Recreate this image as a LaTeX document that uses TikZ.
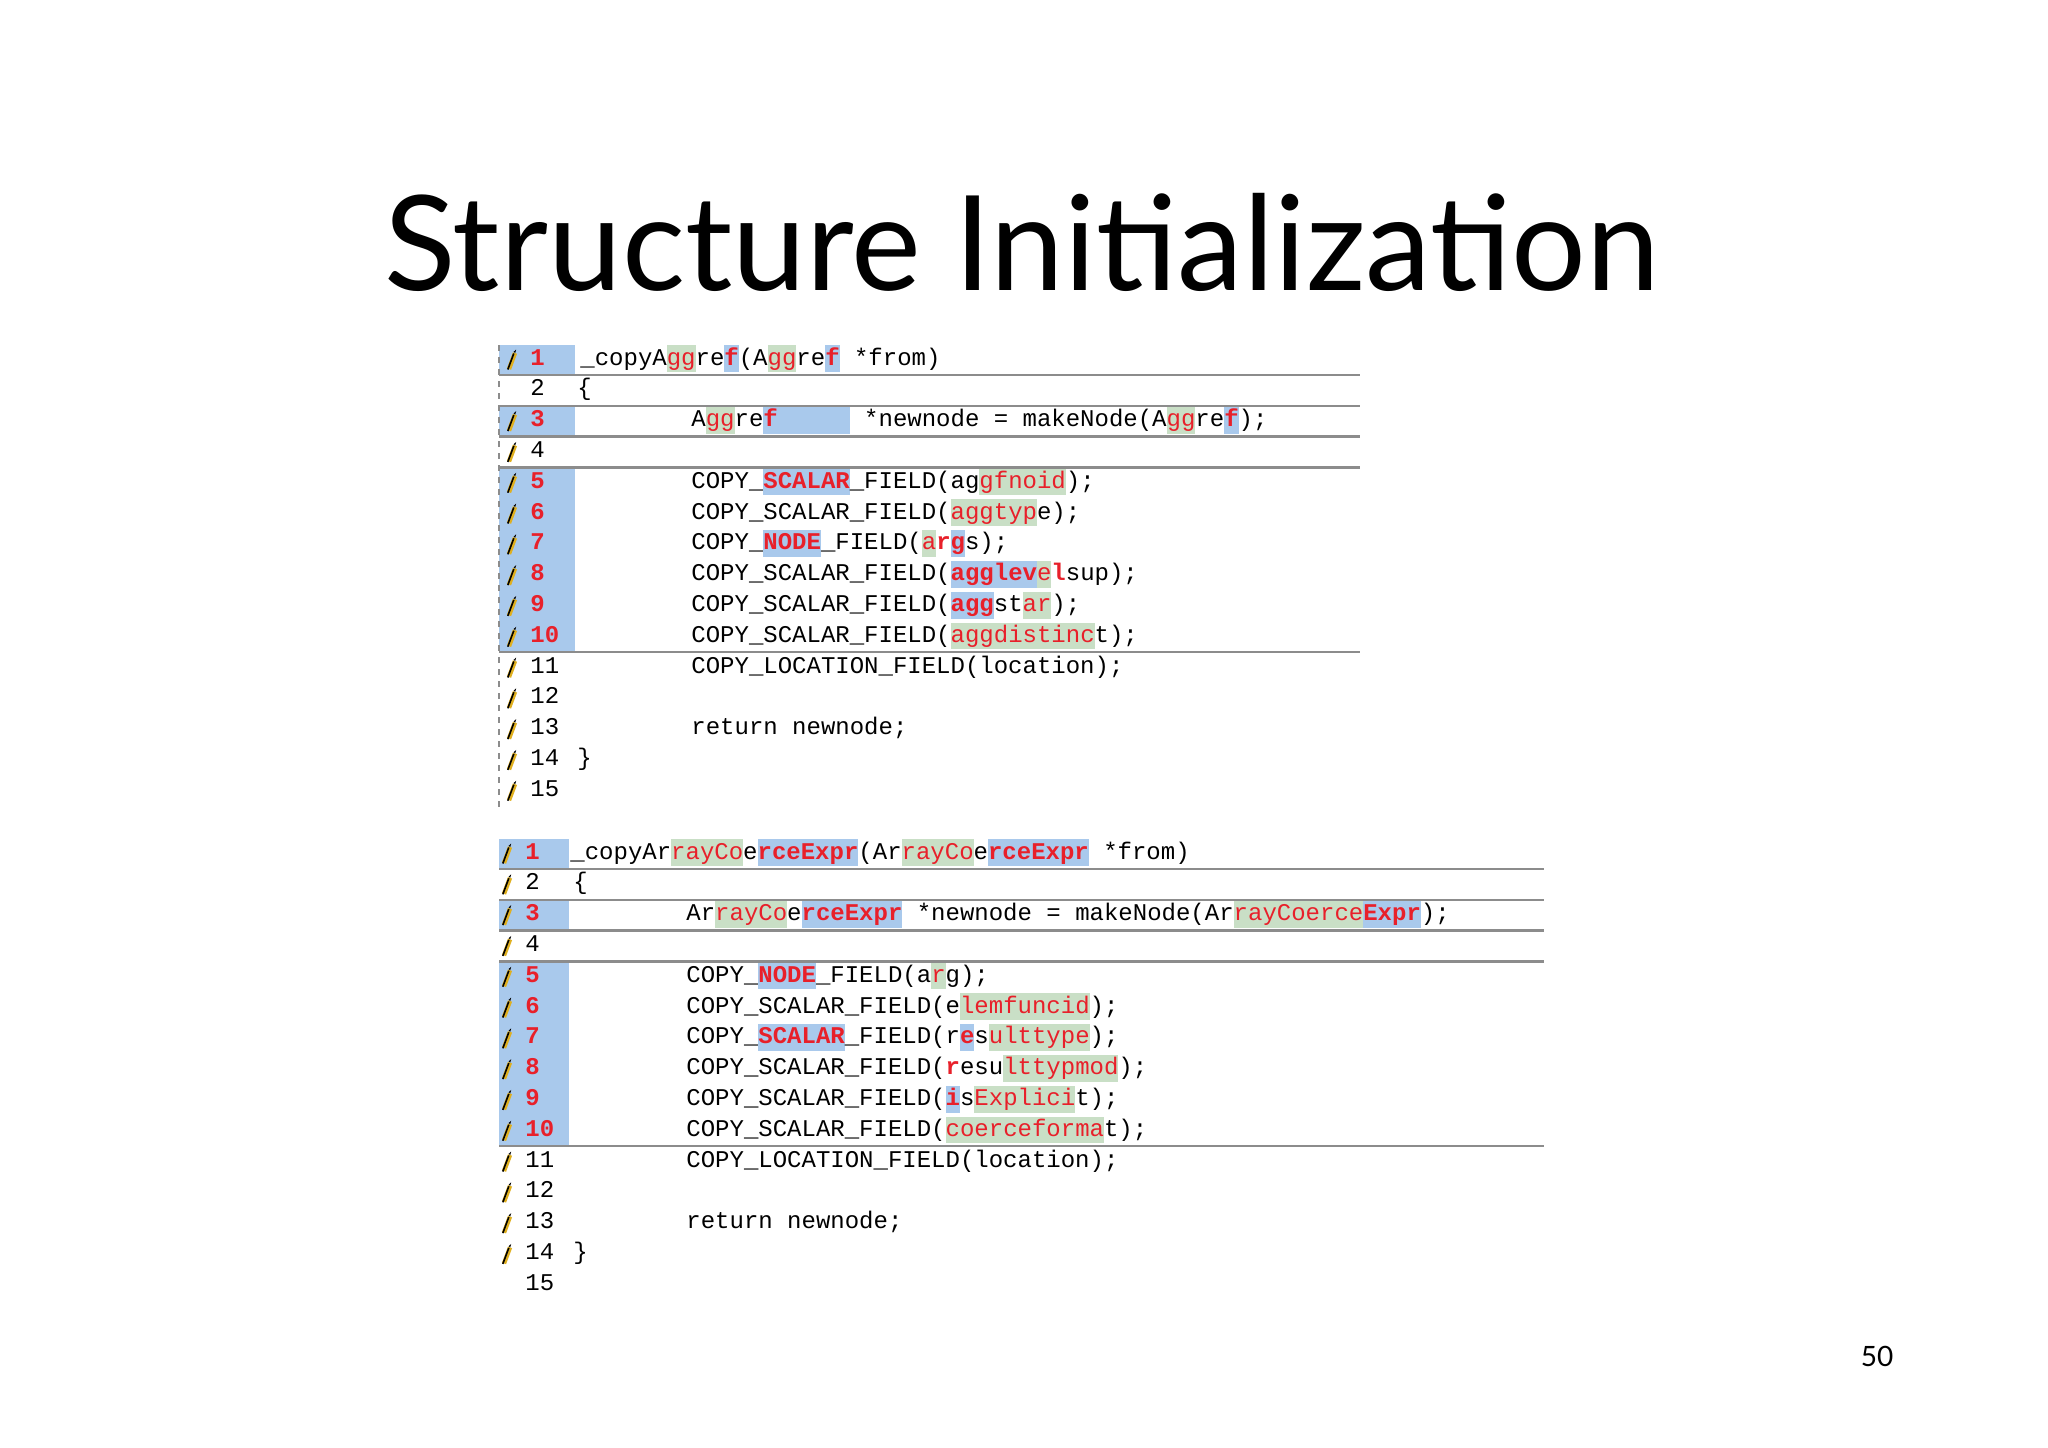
\documentclass[tikz,border=0pt]{standalone}
\usepackage{fontspec}
\setmainfont{Lato}
\setmonofont{Liberation Mono}
\definecolor{hgreen}{HTML}{C9DFC6}
\definecolor{hblue}{HTML}{A9C9EC}
\definecolor{hred}{HTML}{E8202A}
\definecolor{rulegray}{HTML}{8C8C8C}
\definecolor{pencil}{HTML}{E0B020}
\newcommand\hstrut{\rule[-3.6pt]{0pt}{13.4pt}}
\newcommand\hg[1]{{\setlength\fboxsep{0pt}\colorbox{hgreen}{\hstrut\textcolor{hred}{#1}}}}
\newcommand\hb[1]{{\setlength\fboxsep{0pt}\colorbox{hblue}{\hstrut\textcolor{hred}{\bfseries #1}}}}
\newcommand\hr[1]{\textcolor{hred}{\bfseries #1}}
\tikzset{
  code/.style={inner sep=0pt, font=\ttfamily\fontsize{12}{12}\selectfont, anchor=base west},
  lnum/.style={inner sep=0pt, font=\ttfamily\fontsize{12}{12}\selectfont, anchor=base west},
  lnumhi/.style={lnum, text=hred, font=\ttfamily\bfseries\fontsize{12}{12}\selectfont},
  gut/.style={fill=hblue, draw=none},
  sep/.style={draw=rulegray, line width=1.2pt},
  pencilpic/.pic={
    \draw[line width=2.2pt, pencil] (-3,9) -- (3,-7);
    \draw[line width=0.8pt, black] (-4.2,9.5) -- (1.8,-6.5);
    \fill[black] (3.2,-7) -- (4.2,-10.5) -- (1.6,-8.2) -- cycle;
  }
}
\begin{document}
\begin{tikzpicture}[x=0.5pt,y=-0.5pt]
\useasboundingbox[fill=white] (0,0) rectangle (2048,1447);
\node[font=\fontsize{66}{66}\selectfont, anchor=base] (title) at (1022,290) {Structure Initialization};
\node[font=\fontsize{14}{14}\selectfont] (pg) at (1877,1356) {50};

% ---------- top block ----------
\def\rt{30.8}
% gutter
\foreach \i in {1,3} {\fill[gut] (499,{360+(\i-1)*\rt-15}) rectangle (575,{360+(\i-1)*\rt+15});}
\fill[gut] (499,{360+4*\rt-15}) rectangle (575,{360+9*\rt+15});
\draw[rulegray, dashed, line width=0.8pt] (499,345) -- (499,812);
\foreach \i in {1,2,3,4,10} {\draw[sep] (499,{360+(\i-1)*\rt+15}) -- (1360,{360+(\i-1)*\rt+15});}
\foreach \i in {1,3,4,5,6,7,8,9,10,11,12,13,14,15} {\pic at (512,{360+(\i-1)*\rt}) {pencilpic};}
\foreach \i in {1,3,5,6,7,8,9,10} {\node[lnumhi] (ta\i) at (530,{360+(\i-1)*\rt+5}) {\i};}
\foreach \i in {2,4,11,12,13,14,15} {\node[lnum] (ta\i) at (530,{360+(\i-1)*\rt+5}) {\i};}
\node[code] (t1) at (580,365) {\_copyA\hg{gg}re\hb{f}(A\hg{gg}re\hb{f} *from)};
\node[code] (t2) at (577,395.8) {\{};
\node[code] (t3) at (691,426.6) {A\hg{gg}re\hb{f~~~~~}~*newnode = makeNode(A\hg{gg}re\hb{f});};
\node[code] (t5) at (691,488.2) {COPY\_\hb{SCALAR}\_FIELD(ag\hg{gfnoid});};
\node[code] (t6) at (691,519) {COPY\_SCALAR\_FIELD(\hg{aggtyp}e);};
\node[code] (t7) at (691,549.8) {COPY\_\hb{NODE}\_FIELD(\hg{a}\hr{r}\hb{g}s);};
\node[code] (t8) at (691,580.6) {COPY\_SCALAR\_FIELD(\hb{agglev}\hg{e}\hr{l}sup);};
\node[code] (t9) at (691,611.4) {COPY\_SCALAR\_FIELD(\hb{agg}st\hg{ar});};
\node[code] (t10) at (691,642.2) {COPY\_SCALAR\_FIELD(\hg{aggdistin}\hg{c}t);};
\node[code] (t11) at (691,673) {COPY\_LOCATION\_FIELD(location);};
\node[code] (t13) at (691,734.6) {return newnode;};
\node[code] (t14) at (577,765.4) {\}};

% ---------- bottom block ----------
\foreach \i in {1,3} {\fill[gut] (499,{854+(\i-1)*\rt-15}) rectangle (569,{854+(\i-1)*\rt+15});}
\fill[gut] (499,{854+4*\rt-15}) rectangle (569,{854+9*\rt+15});
\foreach \i in {1,2,3,4,10} {\draw[sep] (499,{854+(\i-1)*\rt+15}) -- (1544,{854+(\i-1)*\rt+15});}
\foreach \i in {1,...,14} {\pic at (507,{854+(\i-1)*\rt}) {pencilpic};}
\foreach \i in {1,3,5,6,7,8,9,10} {\node[lnumhi] (ba\i) at (525,{854+(\i-1)*\rt+5}) {\i};}
\foreach \i in {2,4,11,12,13,14} {\node[lnum] (ba\i) at (525,{854+(\i-1)*\rt+5}) {\i};}
\node[lnum] (ba15) at (525,{854+14*\rt+5}) {15};
\node[code] (b1) at (570,859) {\_copyAr\hg{rayCo}e\hb{rceExpr}(Ar\hg{rayCo}e\hb{rceExpr} *from)};
\node[code] (b2) at (573,889.8) {\{};
\node[code] (b3) at (686,920.6) {Ar\hg{rayCo}e\hb{rceExpr} *newnode = makeNode(Ar\hg{rayCoerce}\hb{Expr});};
\node[code] (b5) at (686,982.2) {COPY\_\hb{NODE}\_FIELD(a\hg{r}g);};
\node[code] (b6) at (686,1013) {COPY\_SCALAR\_FIELD(e\hg{lemfuncid});};
\node[code] (b7) at (686,1043.8) {COPY\_\hb{SCALAR}\_FIELD(r\hb{e}s\hg{ulttype});};
\node[code] (b8) at (686,1074.6) {COPY\_SCALAR\_FIELD(\hr{r}esu\hg{lttyp}\hg{mod});};
\node[code] (b9) at (686,1105.4) {COPY\_SCALAR\_FIELD(\hb{i}s\hg{Explici}t);};
\node[code] (b10) at (686,1136.2) {COPY\_SCALAR\_FIELD(\hg{coerceforma}t);};
\node[code] (b11) at (686,1167) {COPY\_LOCATION\_FIELD(location);};
\node[code] (b13) at (686,1228.6) {return newnode;};
\node[code] (b14) at (573,1259.4) {\}};
\end{tikzpicture}
\end{document}
